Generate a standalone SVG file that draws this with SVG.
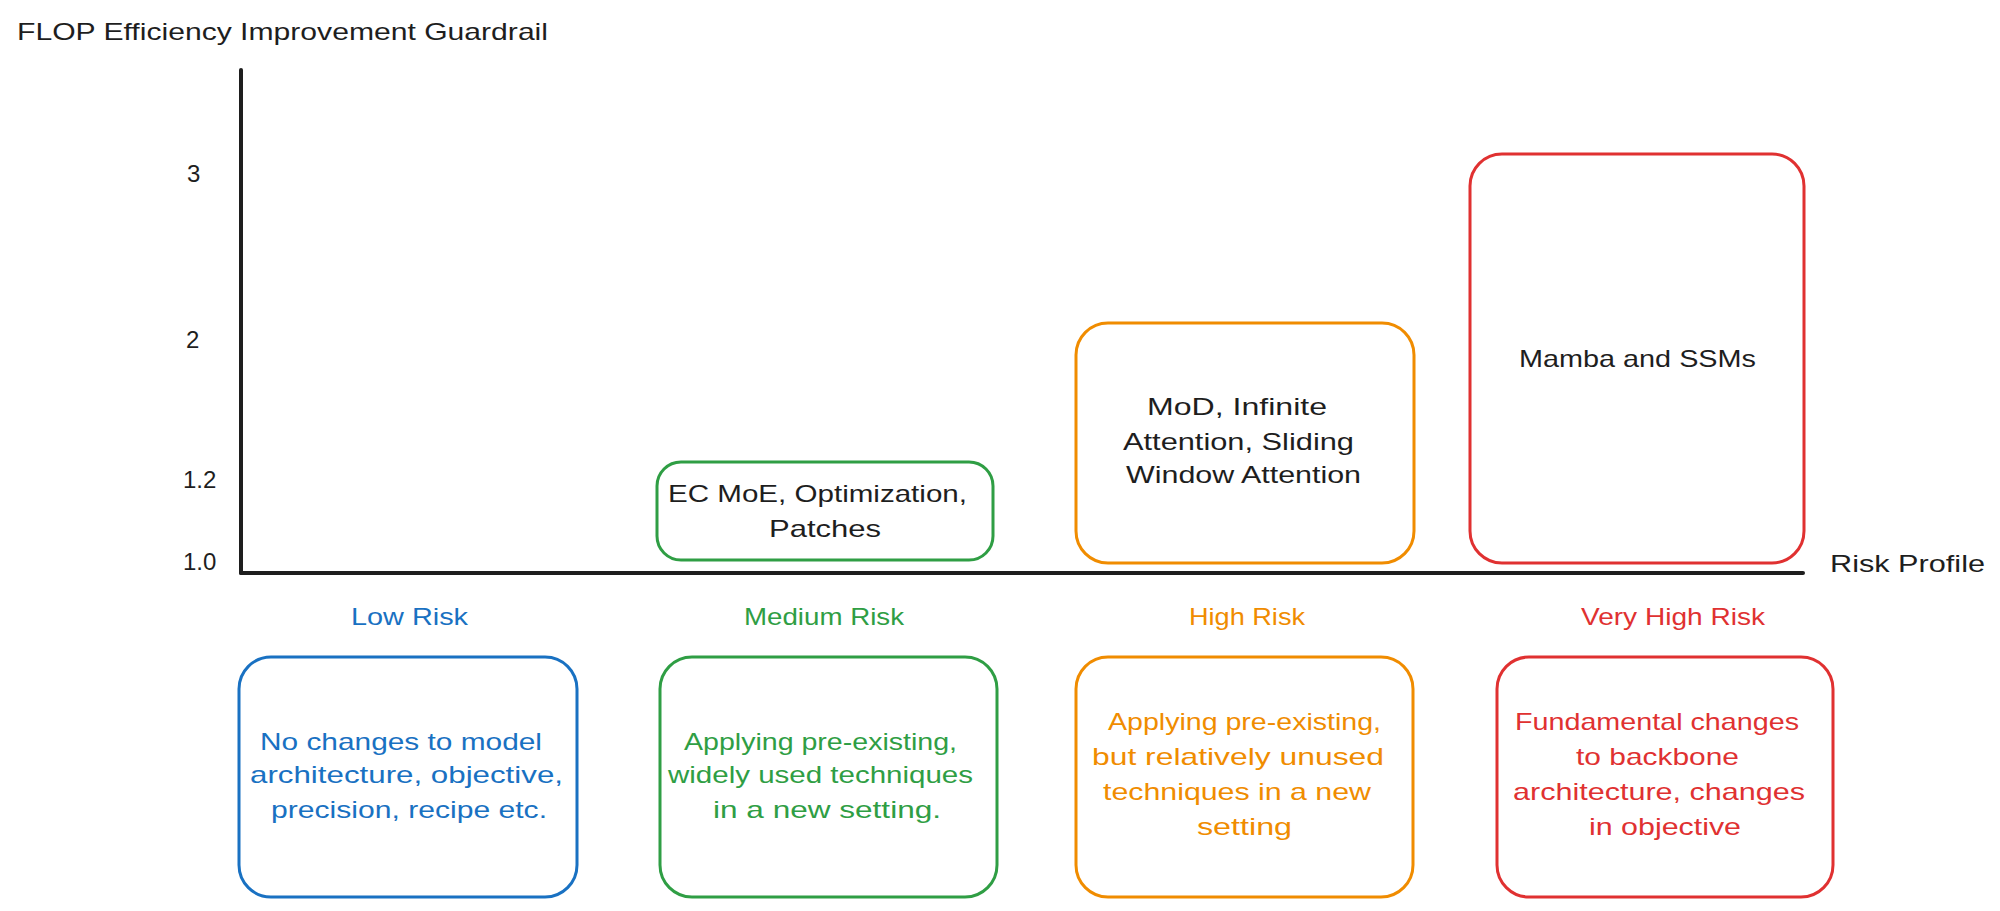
<svg xmlns="http://www.w3.org/2000/svg" width="2000" height="911" viewBox="0 0 2000 911">
<style>
text{font-family:"Liberation Sans",Arial,sans-serif;font-size:24px;fill:#1e1e1e}
.box{fill:none;stroke-width:3}
.k{fill:#1e1e1e}.b{fill:#1971c2}.g{fill:#2f9e44}.o{fill:#f08c00}.r{fill:#e03131}
.sb{stroke:#1971c2}.sg{stroke:#2f9e44}.so{stroke:#f08c00}.sr{stroke:#e03131}
.axis{stroke:#1e1e1e;stroke-width:4;stroke-linecap:round;fill:none}
</style>
<rect width="2000" height="911" fill="#ffffff"/>
<g id="axes">
<line class="axis" x1="241" y1="70" x2="241" y2="573"/>
<line class="axis" x1="241" y1="573" x2="1803" y2="573"/>
</g>
<g id="labels">
<text x="17" y="40" textLength="531" lengthAdjust="spacingAndGlyphs">FLOP Efficiency Improvement Guardrail</text>
<text x="187" y="182">3</text>
<text x="186" y="348">2</text>
<text x="183" y="488">1.2</text>
<text x="183" y="570">1.0</text>
<text x="1830" y="572" textLength="155" lengthAdjust="spacingAndGlyphs">Risk Profile</text>
</g>
<g id="node-ec-moe">
<rect class="box sg" x="657" y="462" width="336" height="98" rx="24"/>
<text x="668" y="502" textLength="299" lengthAdjust="spacingAndGlyphs">EC MoE, Optimization,</text>
<text x="769" y="537" textLength="112" lengthAdjust="spacingAndGlyphs">Patches</text>
</g>
<g id="node-mod">
<rect class="box so" x="1076" y="323" width="338" height="240" rx="32"/>
<text x="1147" y="415" textLength="180" lengthAdjust="spacingAndGlyphs">MoD, Infinite</text>
<text x="1123" y="450" textLength="231" lengthAdjust="spacingAndGlyphs">Attention, Sliding</text>
<text x="1126" y="483" textLength="235" lengthAdjust="spacingAndGlyphs">Window Attention</text>
</g>
<g id="node-mamba">
<rect class="box sr" x="1470" y="154" width="334" height="409" rx="32"/>
<text x="1519" y="367" textLength="237" lengthAdjust="spacingAndGlyphs">Mamba and SSMs</text>
</g>
<g id="node-low">
<text class="b" x="351" y="625" textLength="117" lengthAdjust="spacingAndGlyphs">Low Risk</text>
<rect class="box sb" x="239" y="657" width="338" height="240" rx="32"/>
<text class="b" x="260" y="750" textLength="282" lengthAdjust="spacingAndGlyphs">No changes to model</text>
<text class="b" x="250" y="783" textLength="313" lengthAdjust="spacingAndGlyphs">architecture, objective,</text>
<text class="b" x="271" y="818" textLength="276" lengthAdjust="spacingAndGlyphs">precision, recipe etc.</text>
</g>
<g id="node-medium">
<text class="g" x="744" y="625" textLength="160" lengthAdjust="spacingAndGlyphs">Medium Risk</text>
<rect class="box sg" x="660" y="657" width="337" height="240" rx="32"/>
<text class="g" x="684" y="750" textLength="273" lengthAdjust="spacingAndGlyphs">Applying pre-existing,</text>
<text class="g" x="668" y="783" textLength="305" lengthAdjust="spacingAndGlyphs">widely used techniques</text>
<text class="g" x="713" y="818" textLength="228" lengthAdjust="spacingAndGlyphs">in a new setting.</text>
</g>
<g id="node-high">
<text class="o" x="1189" y="625" textLength="116" lengthAdjust="spacingAndGlyphs">High Risk</text>
<rect class="box so" x="1076" y="657" width="337" height="240" rx="32"/>
<text class="o" x="1108" y="730" textLength="273" lengthAdjust="spacingAndGlyphs">Applying pre-existing,</text>
<text class="o" x="1092" y="765" textLength="292" lengthAdjust="spacingAndGlyphs">but relatively unused</text>
<text class="o" x="1103" y="800" textLength="268" lengthAdjust="spacingAndGlyphs">techniques in a new</text>
<text class="o" x="1197" y="835" textLength="95" lengthAdjust="spacingAndGlyphs">setting</text>
</g>
<g id="node-very-high">
<text class="r" x="1581" y="625" textLength="184" lengthAdjust="spacingAndGlyphs">Very High Risk</text>
<rect class="box sr" x="1497" y="657" width="336" height="240" rx="32"/>
<text class="r" x="1515" y="730" textLength="284" lengthAdjust="spacingAndGlyphs">Fundamental changes</text>
<text class="r" x="1576" y="765" textLength="163" lengthAdjust="spacingAndGlyphs">to backbone</text>
<text class="r" x="1513" y="800" textLength="292" lengthAdjust="spacingAndGlyphs">architecture, changes</text>
<text class="r" x="1589" y="835" textLength="152" lengthAdjust="spacingAndGlyphs">in objective</text>
</g>
</svg>
